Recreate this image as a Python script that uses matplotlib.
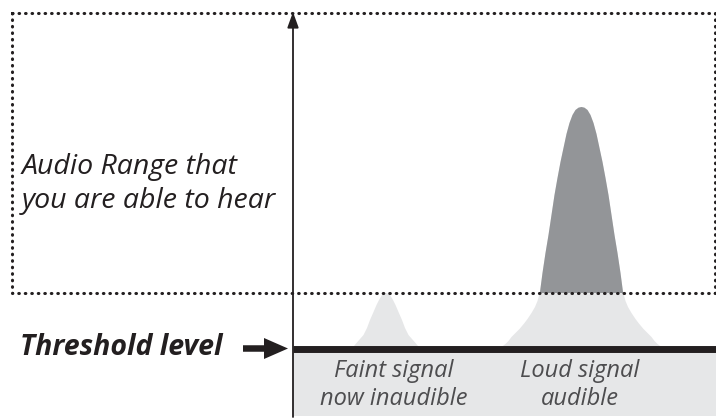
import matplotlib
matplotlib.use("Agg")
import matplotlib.pyplot as plt
from matplotlib.patches import Rectangle, FancyArrow

# ---- data (diagram units: x = frequency, y = level) ----
threshold_level = 67.5
audio_range_bottom = 123
audio_range_top = 403
audio_range_left = -281
audio_range_right = 422

# loud signal profile (x positions and levels)
loud_x = [204.5, 208.5, 212.5, 215.5, 218.5, 222.5, 226.5, 231.5, 234.5, 238.5,
          242, 244.5, 247, 249.5, 252.5, 255.5, 258.5, 261.5, 264.5, 267.5,
          270.5, 273.5, 276.5, 279.5, 282.5, 285.5, 288.5,
          291.5, 294.5, 297.5, 300.5, 303.5, 306.5, 309.5, 312.5, 315.5, 318.5,
          321.5, 324.5, 327.5, 330, 332.5, 335, 338.5, 342.5, 345.5, 350.5,
          354.5, 358.5, 361.5, 364.5, 368.5, 372.5]
loud_level = [67.5, 69, 72, 75, 79, 83, 87, 93, 97, 103,
              109, 115, 124, 143, 163, 181, 201, 221, 238, 254,
              268, 282, 293, 301, 306, 308.3, 309,
              308.3, 306, 301, 293, 282, 268, 254, 238, 221, 201,
              181, 163, 143, 124, 115, 109, 103, 97, 93, 87,
              83, 79, 75, 72, 69, 67.5]

# faint signal profile
faint_x = [57, 61, 63.5, 67, 70.5, 74, 77, 80.5, 83.5, 86, 89, 91, 93,
           95, 97, 100, 102.5, 105.5, 109, 112, 115.5, 119, 122.5, 125, 129]
faint_level = [67.5, 70, 73, 77, 81, 88, 96, 104, 111, 116, 121, 122.5, 123,
               122.5, 121, 116, 111, 104, 96, 88, 81, 77, 73, 70, 67.5]

label_audio = ["Audio Range that", "you are able to hear"]
label_threshold = "Threshold level"
label_faint = ["Faint signal", "now inaudible"]
label_loud = ["Loud signal", "audible"]

DARK = "#231f20"
MID = "#939598"
LIGHT = "#e6e7e8"
TEXTGRAY = "#4d4d4f"

plt.rcParams['font.family'] = ['Open Sans', 'DejaVu Sans']

fig = plt.figure(figsize=(7.16, 4.19), dpi=100)
ax = fig.add_axes([0, 0, 1, 1])
ax.set_xlim(-293, 423)
ax.set_ylim(-3, 416)
ax.axis('off')

# bottom gray band
ax.add_patch(Rectangle((0, 0), 430, threshold_level, facecolor=LIGHT, edgecolor='none', zorder=1))

# light full shapes
ax.fill_between(faint_x, faint_level, threshold_level, facecolor=LIGHT, edgecolor='none', zorder=2)
ax.fill_between(loud_x, loud_level, threshold_level, facecolor=LIGHT, edgecolor='none', zorder=2)
# dark part above audio range bottom
dark = ax.fill_between(loud_x, loud_level, threshold_level, facecolor=MID, edgecolor='none', zorder=3)
clip = Rectangle((-300, audio_range_bottom), 800, 400, transform=ax.transData)
dark.set_clip_path(clip)

# dotted audio range box
bx = [audio_range_left, audio_range_right, audio_range_right, audio_range_left, audio_range_left]
by = [audio_range_top, audio_range_top, audio_range_bottom, audio_range_bottom, audio_range_top]
ax.plot(bx, by, color=DARK, lw=2.2, linestyle=(0, (0.2, 1.93)),
        dash_capstyle='round', zorder=6)

# threshold line
ax.plot([0, 430], [threshold_level, threshold_level], color=DARK, lw=5.0,
        solid_capstyle='butt', zorder=5)

# axes arrows
ax.annotate('', xy=(0, 404), xytext=(0, -1),
            arrowprops=dict(arrowstyle='-|>,head_length=0.47,head_width=0.17',
                            color=DARK, lw=1.3, shrinkA=0, shrinkB=0, mutation_scale=20),
            zorder=7)
ax.annotate('', xy=(427, 0), xytext=(0, 0),
            arrowprops=dict(arrowstyle='-|>,head_length=0.47,head_width=0.17',
                            color=DARK, lw=1.3, shrinkA=0, shrinkB=0, mutation_scale=20),
            zorder=7)

# threshold pointer arrow
ax.add_patch(FancyArrow(-50, threshold_level, 45, 0, width=6.5, head_width=21,
                        head_length=24, length_includes_head=True,
                        facecolor=DARK, edgecolor='none', zorder=7))

# texts
ax.text(-271, 242, label_audio[0], fontsize=20.5, style='italic', color=DARK, va='baseline', ha='left')
ax.text(-271, 208, label_audio[1], fontsize=20.5, style='italic', color=DARK, va='baseline', ha='left')
ax.text(-273, 61, label_threshold, fontsize=20.5, style='italic', weight='bold', color=DARK,
        va='baseline', ha='left')
ax.text(101, 39, label_faint[0], fontsize=17, style='italic', color=TEXTGRAY, va='baseline', ha='center', zorder=8)
ax.text(101, 11, label_faint[1], fontsize=17, style='italic', color=TEXTGRAY, va='baseline', ha='center', zorder=8)
ax.text(287, 39, label_loud[0], fontsize=17, style='italic', color=TEXTGRAY, va='baseline', ha='center', zorder=8)
ax.text(287, 11, label_loud[1], fontsize=17, style='italic', color=TEXTGRAY, va='baseline', ha='center', zorder=8)

fig.savefig("out.png", dpi=100)
